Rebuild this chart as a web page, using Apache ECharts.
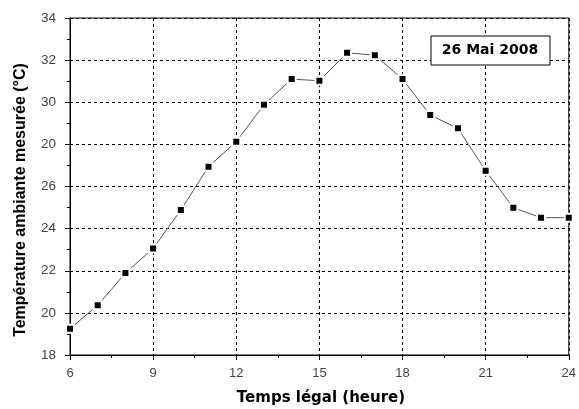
<!DOCTYPE html>
<html><head><meta charset="utf-8">
<script src="https://cdn.jsdelivr.net/npm/echarts@6/dist/echarts.min.js"></script>
<style>html,body{margin:0;padding:0;background:#fff}#c{width:579px;height:409px}</style>
</head><body><div id="c"></div>
<script>
const hours = [6,7,8,9,10,11,12,13,14,15,16,17,18,19,20,21,22,23,24];
const temps = [19.25,20.36,21.89,23.06,24.88,26.94,28.13,29.88,31.10,31.02,32.35,32.23,31.10,29.39,28.76,26.75,24.99,24.52,24.52];
const yTickLabels = {18:"18",20:"20",22:"22",24:"24",26:"26",28:"20",30:"30",32:"32",34:"34"};
const xTitle = "Temps légal (heure)";
const yTitle = "Température ambiante mesurée (°C)";
const note = "26 Mai 2008";

const chart = echarts.init(document.getElementById('c'), null, {renderer:'canvas'});
const gridLine = {show:true, lineStyle:{color:'#000', type:[3,3], width:1}};
chart.setOption({
  animation:false,
  backgroundColor:'#fff',
  grid:{left:70, right:6, top:18, bottom:54, show:true, borderColor:'#000', borderWidth:1, backgroundColor:'transparent'},
  xAxis:{type:'value', min:6, max:24, interval:3,
    axisLine:{show:true, lineStyle:{color:'#000', width:1}},
    axisTick:{show:true, length:5, inside:false, lineStyle:{color:'#000'}},
    minorTick:{show:true, splitNumber:2, length:3, lineStyle:{color:'#000'}},
    axisLabel:{fontFamily:'Liberation Sans', fontSize:13, color:'#444', margin:12},
    splitLine:gridLine},
  yAxis:{type:'value', min:18, max:34, interval:2,
    axisLine:{show:true, lineStyle:{color:'#000', width:1}},
    axisTick:{show:true, length:5, inside:false, lineStyle:{color:'#000'}},
    minorTick:{show:true, splitNumber:2, length:3, lineStyle:{color:'#000'}},
    axisLabel:{fontFamily:'Liberation Sans', fontSize:13.5, color:'#444', margin:14,
      formatter:v=>yTickLabels[v] !== undefined ? yTickLabels[v] : String(v)},
    splitLine:gridLine},
  series:[{type:'line', data:hours.map((h,i)=>[h,temps[i]]),
    symbol:'rect', symbolSize:8, showSymbol:true,
    lineStyle:{color:'#555', width:1},
    itemStyle:{color:'#000', borderColor:'#fff', borderWidth:2},
    z:5}],
  graphic:[
    {type:'rect', shape:{x:431, y:36, width:119, height:29},
     style:{fill:'#fff', stroke:'#000', lineWidth:1}, z:100},
    {type:'text', x:490, y:50.5, z:101,
     style:{text:note, font:'bold 14px "DejaVu Sans"', fill:'#000', align:'center', verticalAlign:'middle'}},
    {type:'text', x:321, y:398, z:101,
     style:{text:xTitle, font:'bold 15px "DejaVu Sans"', fill:'#000', align:'center', verticalAlign:'middle'}},
    {type:'text', x:21, y:200, rotation:Math.PI/2, z:101,
     style:{text:yTitle, font:'bold 16px "Liberation Sans"', fill:'#000', align:'center', verticalAlign:'middle'}}
  ]
});
</script></body></html>
